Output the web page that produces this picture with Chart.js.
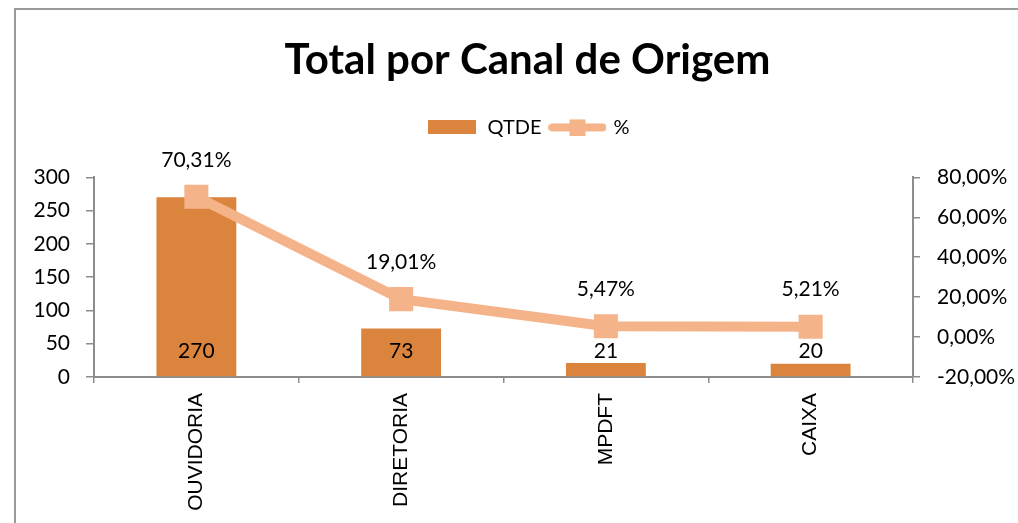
<!DOCTYPE html>
<html>
<head>
<meta charset="utf-8">
<script src="https://cdn.jsdelivr.net/npm/chart.js@4/dist/chart.umd.min.js"></script>
<style>
html,body{margin:0;padding:0;background:#fff;overflow:hidden;width:1018px;height:523px;}
#frame{position:absolute;left:14px;top:8px;width:1100px;height:600px;border-left:2px solid #9a9a9a;border-top:2px solid #9a9a9a;}
#c{position:absolute;left:15px;top:9px;}
</style>
</head>
<body>
<div id="frame"></div>
<canvas id="c" width="1025" height="514"></canvas>
<script>
const categories = ['OUVIDORIA', 'DIRETORIA', 'MPDFT', 'CAIXA'];
const qtdeValues = [270, 73, 21, 20];
const percentValues = [70.31, 19.01, 5.47, 5.21];
const seriesNames = ['QTDE', '%'];
const titleText = 'Total por Canal de Origem';

const barColor = '#DB843D';
const lineColor = '#F5B38A';
const axisColor = '#8c8c8c';
const calibriLike = 'Lato, "Open Sans", sans-serif';

function fmtPct(v) { return v.toFixed(2).replace('.', ',') + '%'; }

// legend swatches
const barImg = document.createElement('canvas');
barImg.width = 48; barImg.height = 14;
(function(){ const g = barImg.getContext('2d'); g.fillStyle = barColor; g.fillRect(0,0,48,14); })();
const lineImg = document.createElement('canvas');
lineImg.width = 58; lineImg.height = 18;
(function(){
  const g = lineImg.getContext('2d');
  g.strokeStyle = lineColor; g.lineWidth = 8; g.lineCap = 'round';
  g.beginPath(); g.moveTo(4, 9); g.lineTo(54, 9); g.stroke();
  g.fillStyle = lineColor; g.fillRect(21, 1, 16, 17);
})();

const legendSpacer = {
  id: 'legendSpacer',
  beforeUpdate(chart) {
    const lg = chart.legend;
    if (lg && !lg._patched) {
      const f = lg.fit;
      lg.fit = function() { f.apply(this, arguments); this.height += 30; };
      lg._patched = true;
    }
  }
};

const valueLabels = {
  id: 'valueLabels',
  afterDatasetsDraw(chart) {
    const ctx = chart.ctx;
    ctx.save();
    ctx.font = '21px ' + calibriLike;
    ctx.fillStyle = '#000';
    ctx.textAlign = 'center';
    ctx.textBaseline = 'middle';
    chart.getDatasetMeta(0).data.forEach((el, i) => {
      ctx.fillText(String(qtdeValues[i]), el.x, el.base - 25);
    });
    chart.getDatasetMeta(1).data.forEach((el, i) => {
      ctx.fillText(fmtPct(percentValues[i]), el.x, el.y - 37);
    });
    ctx.restore();
  }
};

new Chart(document.getElementById('c'), {
  data: {
    labels: categories,
    datasets: [
      {
        type: 'bar', label: seriesNames[0], data: qtdeValues, yAxisID: 'y',
        backgroundColor: barColor, borderWidth: 0,
        categoryPercentage: 1, barPercentage: 0.39, order: 2
      },
      {
        type: 'line', label: seriesNames[1], data: percentValues, yAxisID: 'y1',
        borderColor: lineColor, borderWidth: 10, backgroundColor: lineColor,
        pointStyle: 'rect', pointRadius: 17, pointHoverRadius: 17,
        pointBackgroundColor: lineColor, pointBorderWidth: 0,
        tension: 0, order: 1
      }
    ]
  },
  options: {
    responsive: false,
    animation: false,
    devicePixelRatio: 1,
    layout: { padding: 0 },
    plugins: {
      tooltip: { enabled: false },
      title: {
        display: true, text: titleText, color: '#000',
        font: { family: calibriLike, size: 42, weight: 'bold' },
        padding: { top: 26, bottom: 22 }
      },
      legend: {
        display: true, position: 'top',
        labels: {
          usePointStyle: true, pointStyleWidth: 52, padding: 10,
          color: '#000', font: { family: calibriLike, size: 20 },
          generateLabels() {
            return [
              { text: seriesNames[0], pointStyle: barImg, datasetIndex: 0, hidden: false, lineWidth: 0, fillStyle: barColor, strokeStyle: barColor },
              { text: seriesNames[1], pointStyle: lineImg, datasetIndex: 1, hidden: false, lineWidth: 0, fillStyle: lineColor, strokeStyle: lineColor }
            ];
          }
        }
      }
    },
    scales: {
      x: {
        type: 'category', offset: true,
        grid: { offset: true, drawOnChartArea: false, drawTicks: true, tickLength: 6, color: axisColor, lineWidth: 1.5 },
        border: { color: axisColor, width: 2 },
        ticks: { autoSkip: false, maxRotation: 90, minRotation: 90, padding: 10, color: '#000',
                 font: { family: '"Liberation Sans", Arial, sans-serif', size: 21 } },
        afterFit(s) { s.height = 146; }
      },
      y: {
        position: 'left', min: 0, max: 300,
        grid: { drawOnChartArea: false, drawTicks: true, tickLength: 8, color: axisColor, lineWidth: 1.5 },
        border: { color: axisColor, width: 2 },
        ticks: { stepSize: 50, padding: 16, color: '#000', font: { family: calibriLike, size: 21 } },
        afterFit(s) { s.width = 79; }
      },
      y1: {
        position: 'right', min: -20, max: 80,
        grid: { drawOnChartArea: false, drawTicks: true, tickLength: 7, color: axisColor, lineWidth: 1.5 },
        border: { color: axisColor, width: 2 },
        ticks: { stepSize: 20, padding: 17, color: '#000', font: { family: calibriLike, size: 21 },
                 callback: (v) => fmtPct(v) },
        afterFit(s) { s.width = 127; }
      }
    }
  },
  plugins: [legendSpacer, valueLabels]
});
</script>
</body>
</html>
